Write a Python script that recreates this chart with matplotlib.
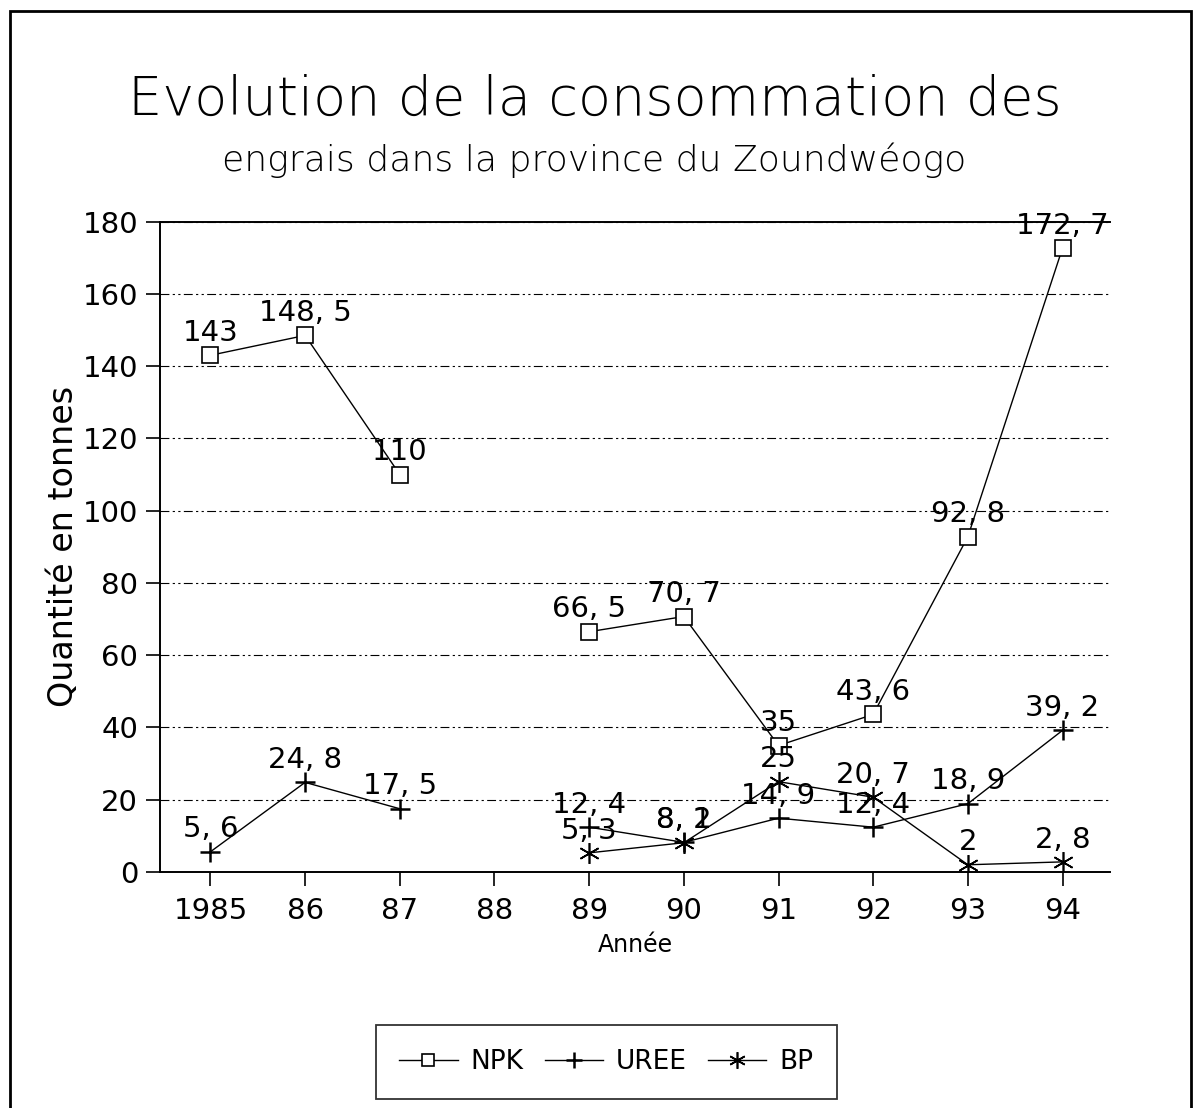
import numpy as np
import matplotlib
matplotlib.use("Agg")
import matplotlib.pyplot as plt
from matplotlib.patches import Rectangle

years = ["1985", "86", "87", "88", "89", "90", "91", "92", "93", "94"]
npk = [143, 148.5, 110, np.nan, 66.5, 70.7, 35, 43.6, 92.8, 172.7]
uree = [5.6, 24.8, 17.5, np.nan, 12.4, 8.2, 14.9, 12.4, 18.9, 39.2]
bp = [np.nan, np.nan, np.nan, np.nan, 5.3, 8.1, 25, 20.7, 2, 2.8]
yticks = [0, 20, 40, 60, 80, 100, 120, 140, 160, 180]

plt.rcParams['font.family'] = ['DejaVu Sans']

fig = plt.figure(figsize=(11.96, 11.08), dpi=100)
ax = fig.add_axes([0.134, 0.213, 0.794, 0.587])

x = np.arange(len(years))

def fmt(v):
    if float(v).is_integer():
        return str(int(v))
    return ("%.1f" % v).replace(".", ", ")

series = [
    ("NPK", npk, dict(marker="s", markersize=11, markerfacecolor="white", markeredgewidth=1.2)),
    ("UREE", uree, dict(marker="+", markersize=15, markeredgewidth=1.8)),
    ("BP", bp, dict(marker=(6, 2, 0), markersize=15, markeredgewidth=1.2)),
]
for name, vals, style in series:
    ax.plot(x, vals, color="black", lw=1.0, label=name, **style)
    for xi, v in zip(x, vals):
        if not np.isnan(v):
            ax.annotate(fmt(v), (xi, v), xytext=(0, 6), textcoords="offset points",
                        ha="center", va="bottom", fontsize=21, color="black")

ax.set_xlim(-0.53, 9.5)
ax.set_ylim(0, 180)
ax.set_xticks(x)
ax.set_xticklabels(years, fontsize=21)
ax.set_yticks(yticks)
ax.set_yticklabels([str(t) for t in yticks], fontsize=21)
ax.tick_params(axis="x", direction="out", length=10, width=1.2, pad=8)
ax.tick_params(axis="y", direction="out", length=10, width=1.2, pad=6)
ax.yaxis.grid(True, linestyle=(0, (8, 3, 2, 3, 2, 3)), color="black", lw=0.8)
ax.spines["right"].set_visible(False)
for s in ["left", "bottom", "top"]:
    ax.spines[s].set_linewidth(1.4)

ax.set_xlabel("Année", fontsize=17, labelpad=6)
ax.set_ylabel("Quantité en tonnes", fontsize=24, labelpad=2)

fig.text(0.497, 0.910, "Evolution de la consommation des", ha="center", va="center",
         fontsize=39, fontweight="light")
fig.text(0.497, 0.855, "engrais dans la province du Zoundwéogo", ha="center", va="center",
         fontsize=26, fontweight="light")

leg = ax.legend(loc="center", bbox_to_anchor=(0.507, 0.0415), bbox_transform=fig.transFigure,
                ncol=3, fontsize=19, frameon=True, fancybox=False, edgecolor="black",
                handlelength=2.2, columnspacing=0.8, borderpad=0.9, handletextpad=0.5,
                markerscale=0.8)
leg.get_frame().set_linewidth(1.3)

fig.patches.append(Rectangle((0.008, -0.01), 0.988, 1.0, transform=fig.transFigure,
                             fill=False, edgecolor="black", lw=2.0))

fig.savefig("out.png", dpi=100)
